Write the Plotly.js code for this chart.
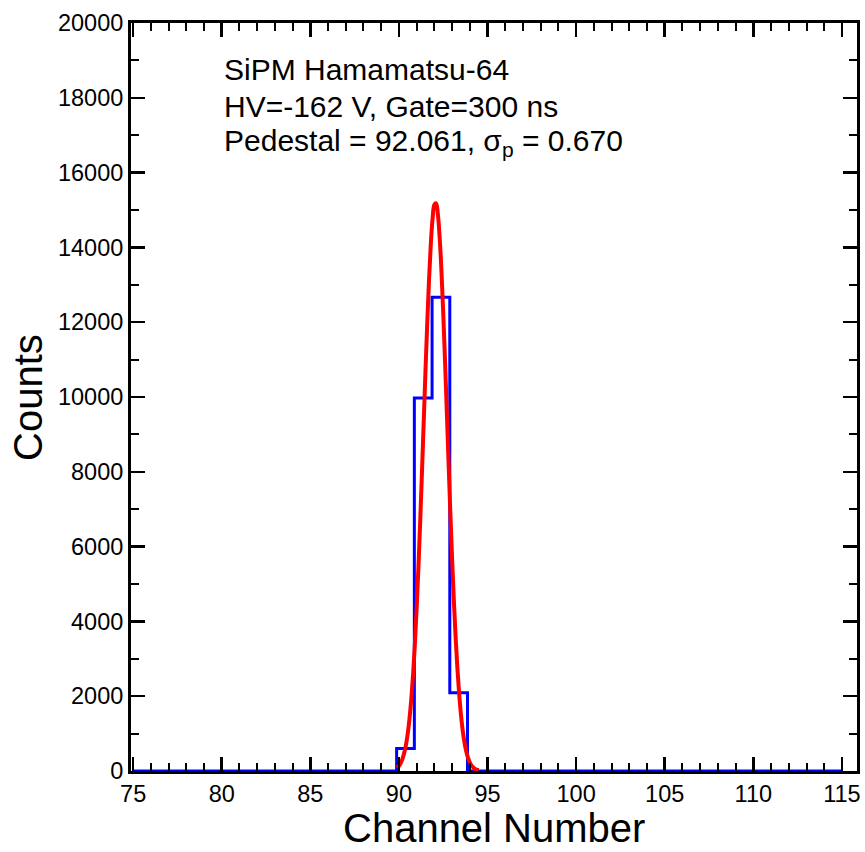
<!DOCTYPE html>
<html>
<head>
<meta charset="utf-8">
<script src="https://cdn.plot.ly/plotly-3.0.1.min.js"></script>
<style>html,body{margin:0;padding:0;background:#fff;}#chart{width:865px;height:852px;}</style>
</head>
<body>
<div id="chart"></div>
<script>
// Histogram data (bin left edges and counts), full range of the histogram
var histStart = 75;
var histEnd = 115;
var binLeft = [89.87, 90.87, 91.87, 92.87];
var binWidth = 1;
var counts = [600, 9970, 12670, 2090];

// Gaussian fit curve
var fitX = [89.9, 90.0, 90.1, 90.2, 90.3, 90.4, 90.5, 90.6, 90.7, 90.8, 90.9, 91.0, 91.1, 91.2, 91.3, 91.4, 91.5, 91.6, 91.7, 91.8, 91.9, 92.0, 92.1, 92.2, 92.3, 92.4, 92.5, 92.6, 92.7, 92.8, 92.9, 93.0, 93.1, 93.2, 93.3, 93.4, 93.5, 93.6, 93.7, 93.8, 93.9, 94.0, 94.1, 94.2, 94.3, 94.4, 94.5];
var fitY = [85, 135, 210, 325, 485, 705, 1010, 1415, 1940, 2590, 3395, 4350, 5445, 6665, 7990, 9355, 10720, 12005, 13155, 14100, 14775, 15140, 15175, 14870, 14255, 13365, 12250, 10985, 9630, 8260, 6925, 5680, 4555, 3575, 2740, 2055, 1510, 1080, 760, 520, 350, 230, 145, 95, 55, 35, 20];

var textLines = ["SiPM Hamamatsu-64", "HV=-162 V, Gate=300 ns", "Pedestal = 92.061, \u03c3<sub>p</sub> = 0.670"];

var xTitle = "Channel Number";
var yTitle = "Counts";

// build step path
var hx = [histStart], hy = [0];
for (var i = 0; i < binLeft.length; i++) { hx.push(binLeft[i]); hy.push(counts[i]); }
hx.push(binLeft[binLeft.length - 1] + binWidth); hy.push(0);
hx.push(histEnd); hy.push(0);

var font = "Liberation Sans, Arial, Helvetica, sans-serif";

var traces = [
  {x: hx, y: hy, type: 'scatter', mode: 'lines', line: {shape: 'hv', color: '#0000ff', width: 3}, hoverinfo: 'skip'},
  {x: fitX, y: fitY, type: 'scatter', mode: 'lines', line: {color: '#ff0000', width: 4, shape: 'spline'}, hoverinfo: 'skip'}
];

var lineY = [0.9385, 0.889, 0.8396];
var annotations = textLines.map(function (t, i) {
  return {text: t, xref: 'paper', yref: 'paper', x: 0.1253, y: lineY[i], xanchor: 'left', yanchor: 'middle', showarrow: false, font: {family: font, size: 30, color: '#000'}};
});
// axis titles as annotations for exact placement
annotations.push({text: xTitle, xref: 'paper', yref: 'paper', x: 0.5, y: -0.1083, xanchor: 'center', yanchor: 'bottom', showarrow: false, font: {family: font, size: 40, color: '#000'}});
annotations.push({text: yTitle, xref: 'paper', yref: 'paper', x: -0.1419, y: 0.5, xanchor: 'center', yanchor: 'middle', textangle: -90, showarrow: false, font: {family: font, size: 40, color: '#000'}});

var layout = {
  width: 865, height: 852,
  margin: {l: 131, r: 8, t: 23, b: 81},
  paper_bgcolor: '#fff', plot_bgcolor: '#fff',
  showlegend: false,
  font: {family: font, color: '#000'},
  xaxis: {
    range: [74.88, 115.85], tick0: 75, dtick: 5, ticks: 'inside', ticklen: 14, tickwidth: 2.5, tickcolor: '#000',
    showline: true, linewidth: 3, linecolor: '#000', mirror: 'ticks', showgrid: false, zeroline: false,
    minor: {dtick: 1, ticks: 'inside', ticklen: 8, tickwidth: 2, tickcolor: '#000', showgrid: false},
    tickfont: {family: font, size: 23.5, color: '#000'}
  },
  yaxis: {
    range: [0, 20000], tick0: 0, dtick: 2000, tickformat: 'd', ticks: 'inside', ticklen: 14, tickwidth: 2.5, tickcolor: '#000',
    showline: true, linewidth: 3, linecolor: '#000', mirror: 'ticks', showgrid: false, zeroline: false,
    minor: {dtick: 1000, ticks: 'inside', ticklen: 8, tickwidth: 2, tickcolor: '#000', showgrid: false},
    tickfont: {family: font, size: 23.5, color: '#000'}
  },
  annotations: annotations
};

Plotly.newPlot('chart', traces, layout, {staticPlot: true, displayModeBar: false});
</script>
</body>
</html>
